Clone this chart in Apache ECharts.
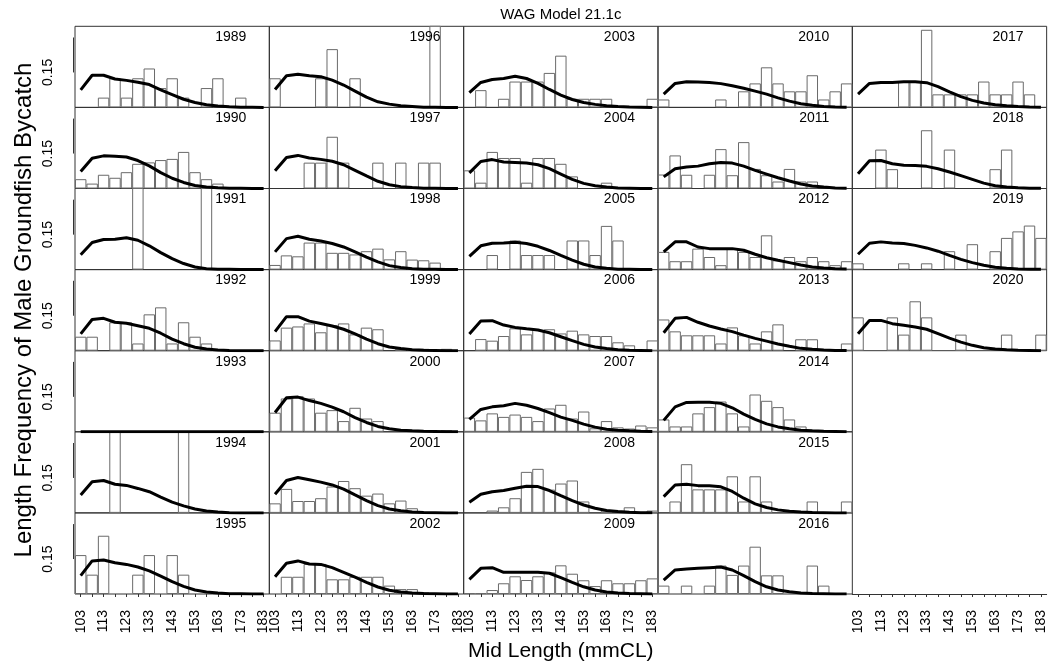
<!DOCTYPE html>
<html><head><meta charset="utf-8">
<script src="https://cdn.jsdelivr.net/npm/echarts@6/dist/echarts.min.js"></script>
<style>html,body{margin:0;padding:0;background:#fff}#c{width:1051px;height:666px}</style>
</head><body><div id="c"></div>
<script>
const bins = [103,108,113,118,123,128,133,138,143,148,153,158,163,168,173,178,183];
const years = [1989,1990,1991,1992,1993,1994,1995,1996,1997,1998,1999,2000,2001,2002,2003,2004,2005,2006,2007,2008,2009,2010,2011,2012,2013,2014,2015,2016,2017,2018,2019,2020];
const yTickLabel = 0.15;

const obs1989 = [0,0,0.042,0.125,0.042,0.125,0.167,0.083,0.125,0.042,0,0.083,0.125,0,0.042,0,0];
const exp1989 = [0.075,0.138,0.138,0.122,0.116,0.108,0.098,0.075,0.055,0.035,0.021,0.011,0.006,0.003,0.001,0.001,0];
const obs1990 = [0.040,0.021,0.059,0.046,0.070,0.106,0.112,0.122,0.127,0.157,0.070,0.040,0.021,0,0,0,0];
const exp1990 = [0.073,0.13,0.14,0.138,0.135,0.12,0.097,0.068,0.044,0.026,0.013,0.006,0.003,0.001,0.001,0,0];
const obs1991 = [0,0,0,0,0,0.5,0,0,0,0,0,0.5,0,0,0,0,0];
const exp1991 = [0.064,0.116,0.129,0.13,0.137,0.126,0.102,0.073,0.047,0.026,0.011,0.004,0.002,0.001,0,0,0];
const obs1992 = [0.06,0.06,0,0.122,0.122,0.031,0.156,0.186,0.031,0.122,0.06,0.031,0,0,0,0,0];
const exp1992 = [0.072,0.134,0.139,0.122,0.118,0.107,0.096,0.075,0.05,0.03,0.015,0.007,0.003,0.001,0,0,0];
const obs1993 = [0,0,0,0,0,0,0,0,0,0,0,0,0,0,0,0,0];
const exp1993 = [0,0,0,0,0,0,0,0,0,0,0,0,0,0,0,0,0];
const obs1994 = [0,0,0,0.5,0,0,0,0,0,0.5,0,0,0,0,0,0,0];
const exp1994 = [0.077,0.134,0.139,0.123,0.118,0.105,0.091,0.068,0.046,0.03,0.017,0.008,0.004,0.001,0,0,0];
const obs1995 = [0.167,0.083,0.25,0,0,0.083,0.167,0,0.167,0.083,0,0,0,0,0,0,0];
const exp1995 = [0.079,0.142,0.146,0.134,0.127,0.116,0.099,0.077,0.053,0.033,0.017,0.009,0.004,0.001,0.001,0,0];
const obs1996 = [0.125,0,0,0,0.125,0.25,0,0.125,0,0,0,0,0,0,0.375,0,0];
const exp1996 = [0.077,0.136,0.142,0.136,0.132,0.117,0.096,0.07,0.044,0.024,0.014,0.007,0.004,0.001,0.001,0,0];
const obs1997 = [0,0,0,0.111,0.111,0.222,0.111,0,0,0.111,0,0.111,0,0.111,0.111,0,0];
const exp1997 = [0.076,0.133,0.142,0.131,0.125,0.117,0.102,0.078,0.054,0.031,0.016,0.008,0.004,0.001,0.001,0,0];
const obs1998 = [0.02,0.061,0.057,0.116,0.116,0.072,0.072,0.065,0.079,0.09,0.044,0.079,0.043,0.04,0.03,0,0];
const exp1998 = [0.076,0.133,0.143,0.13,0.123,0.112,0.097,0.076,0.054,0.033,0.017,0.009,0.004,0.001,0.001,0,0];
const obs1999 = [0.044,0.099,0.104,0.117,0.079,0.11,0.117,0.07,0.099,0.092,0,0.008,0.004,0.008,0,0.008,0];
const exp1999 = [0.082,0.146,0.146,0.127,0.117,0.106,0.092,0.072,0.05,0.03,0.016,0.009,0.004,0.002,0.001,0,0];
const obs2000 = [0.082,0.143,0.153,0.143,0.082,0.093,0.046,0.103,0.057,0.046,0,0,0,0,0,0.007,0];
const exp2000 = [0.083,0.146,0.149,0.134,0.122,0.106,0.086,0.061,0.04,0.023,0.013,0.007,0.004,0.002,0.001,0,0];
const obs2001 = [0.041,0.103,0.051,0.051,0.063,0.113,0.137,0.106,0.074,0.083,0.041,0.053,0.02,0,0,0,0];
const exp2001 = [0.08,0.139,0.152,0.142,0.132,0.12,0.102,0.077,0.053,0.031,0.017,0.009,0.004,0.002,0.001,0,0];
const obs2002 = [0,0.074,0.074,0.129,0.129,0.063,0.063,0.074,0.074,0.074,0.036,0.021,0.021,0.007,0,0,0];
const exp2002 = [0.074,0.132,0.142,0.129,0.127,0.113,0.093,0.072,0.05,0.03,0.016,0.009,0.004,0.002,0.001,0,0];
const obs2003 = [0,0.074,0,0.037,0.111,0.111,0.111,0.148,0.222,0.037,0.037,0.037,0.037,0,0,0,0.037];
const exp2003 = [0.063,0.107,0.12,0.124,0.134,0.124,0.103,0.077,0.053,0.034,0.021,0.013,0.007,0.004,0.002,0.001,0];
const obs2004 = [0.078,0.025,0.157,0.131,0.131,0.025,0.131,0.131,0.106,0.052,0,0,0.025,0,0,0,0];
const exp2004 = [0.067,0.116,0.124,0.114,0.112,0.109,0.102,0.085,0.062,0.039,0.022,0.012,0.006,0.002,0.001,0,0];
const obs2005 = [0,0,0.0625,0,0.125,0.0625,0.0625,0.0625,0,0.125,0.125,0.0625,0.1875,0.125,0,0,0];
const exp2005 = [0.057,0.102,0.113,0.114,0.117,0.112,0.1,0.082,0.061,0.041,0.023,0.011,0.006,0.002,0.001,0,0];
const obs2006 = [0,0.05,0.043,0.063,0.096,0.07,0.089,0.092,0.074,0.086,0.07,0.063,0.063,0.036,0.023,0,0.044];
const exp2006 = [0.072,0.127,0.129,0.11,0.1,0.094,0.089,0.077,0.06,0.043,0.027,0.016,0.009,0.004,0.002,0.001,0];
const obs2007 = [0.061,0.049,0.079,0.064,0.074,0.064,0.046,0.1,0.116,0.057,0.087,0.015,0.046,0.019,0.014,0.027,0.019];
const exp2007 = [0.053,0.096,0.107,0.112,0.122,0.114,0.1,0.082,0.063,0.049,0.033,0.02,0.011,0.007,0.004,0.002,0.001];
const obs2008 = [0,0,0.01,0.024,0.063,0.176,0.189,0.1,0.126,0.139,0.049,0,0.01,0,0.024,0,0.01];
const exp2008 = [0.046,0.08,0.091,0.096,0.106,0.114,0.113,0.096,0.074,0.053,0.034,0.02,0.01,0.006,0.003,0.001,0.001];
const obs2009 = [0.004,0.004,0.017,0.046,0.076,0.06,0.076,0.093,0.123,0.087,0.059,0.034,0.059,0.046,0.046,0.059,0.067];
const exp2009 = [0.063,0.11,0.113,0.093,0.093,0.093,0.093,0.089,0.07,0.05,0.031,0.017,0.009,0.004,0.002,0.001,0];
const obs2010 = [0.034,0,0,0,0,0.034,0,0.069,0.103,0.172,0.103,0.069,0.069,0.138,0.034,0.069,0.103];
const exp2010 = [0.057,0.103,0.11,0.109,0.107,0.102,0.093,0.082,0.07,0.057,0.041,0.027,0.016,0.009,0.004,0.002,0.001];
const obs2011 = [0.06,0.142,0.059,0,0.059,0.169,0.057,0.199,0.084,0.057,0.03,0.084,0.03,0.03,0,0,0];
const exp2011 = [0.05,0.085,0.092,0.096,0.106,0.112,0.109,0.096,0.078,0.062,0.046,0.032,0.019,0.011,0.006,0.002,0.001];
const obs2012 = [0.076,0.036,0.036,0.09,0.054,0.019,0.09,0.076,0.054,0.147,0.04,0.054,0.036,0.054,0.036,0.019,0.036];
const exp2012 = [0.076,0.119,0.119,0.097,0.09,0.09,0.09,0.083,0.066,0.051,0.04,0.03,0.02,0.011,0.007,0.004,0.003];
const obs2013 = [0.134,0.083,0.066,0.066,0.066,0.031,0.1,0.066,0.031,0.083,0.113,0,0.049,0.049,0,0,0.031];
const exp2013 = [0.077,0.139,0.143,0.122,0.106,0.093,0.082,0.067,0.053,0.041,0.029,0.019,0.01,0.006,0.003,0.001,0.001];
const obs2014 = [0.053,0.023,0.023,0.079,0.106,0.13,0.079,0.023,0.16,0.133,0.106,0.053,0.023,0,0,0,0];
const exp2014 = [0.049,0.107,0.126,0.127,0.127,0.122,0.103,0.076,0.053,0.034,0.021,0.013,0.007,0.004,0.002,0.001,0];
const obs2015 = [0,0.049,0.209,0.101,0.101,0.101,0.157,0.049,0.157,0.049,0,0,0,0.049,0,0,0.049];
const exp2015 = [0.07,0.12,0.123,0.117,0.116,0.112,0.092,0.063,0.039,0.023,0.013,0.007,0.004,0.002,0.001,0,0];
const obs2016 = [0.036,0,0.036,0,0.036,0.122,0.082,0.122,0.203,0.08,0.08,0,0,0.122,0.036,0,0];
const exp2016 = [0.06,0.103,0.107,0.11,0.113,0.116,0.103,0.079,0.053,0.031,0.017,0.01,0.004,0.002,0.001,0,0];
const obs2017 = [0,0,0,0,0.111,0.111,0.333,0.056,0.056,0.056,0.056,0.111,0.056,0.056,0.111,0.056,0];
const exp2017 = [0.057,0.103,0.107,0.107,0.11,0.11,0.106,0.089,0.067,0.046,0.03,0.019,0.011,0.007,0.004,0.002,0.001];
const obs2018 = [0,0,0.167,0.083,0,0,0.25,0,0.167,0,0,0,0.083,0.167,0,0,0];
const exp2018 = [0.063,0.119,0.12,0.106,0.1,0.099,0.095,0.085,0.071,0.055,0.039,0.023,0.012,0.006,0.003,0.001,0.001];
const obs2019 = [0.027,0,0,0,0.027,0,0.027,0,0.079,0,0.109,0,0.079,0.136,0.164,0.189,0.136];
const exp2019 = [0.066,0.113,0.119,0.114,0.112,0.104,0.093,0.079,0.061,0.044,0.03,0.019,0.01,0.006,0.003,0.001,0.001];
const obs2020 = [0.143,0,0,0.143,0.069,0.212,0.143,0,0,0.069,0,0,0,0.069,0,0,0.069];
const exp2020 = [0.073,0.13,0.13,0.116,0.109,0.102,0.092,0.073,0.054,0.037,0.023,0.013,0.007,0.004,0.002,0.001,0];

const obsList = [obs1989,obs1990,obs1991,obs1992,obs1993,obs1994,obs1995,obs1996,obs1997,obs1998,obs1999,obs2000,obs2001,obs2002,obs2003,obs2004,obs2005,obs2006,obs2007,obs2008,obs2009,obs2010,obs2011,obs2012,obs2013,obs2014,obs2015,obs2016,obs2017,obs2018,obs2019,obs2020];
const expList = [exp1989,exp1990,exp1991,exp1992,exp1993,exp1994,exp1995,exp1996,exp1997,exp1998,exp1999,exp2000,exp2001,exp2002,exp2003,exp2004,exp2005,exp2006,exp2007,exp2008,exp2009,exp2010,exp2011,exp2012,exp2013,exp2014,exp2015,exp2016,exp2017,exp2018,exp2019,exp2020];

const W = 1051, L0 = 75, CW = 194.33, T0 = 26.3, RH = 81.1, YMAX = 0.348;
const FONT = 'Liberation Sans, Arial, sans-serif';
const chart = echarts.init(document.getElementById('c'), null, {renderer: 'canvas'});

const grids = [], xAxes = [], yAxes = [], series = [], titles = [];

function xAxisFor(i, showLabels, showLine) {
  return {gridIndex: i, type: 'category', data: bins.map(String), boundaryGap: true,
    axisLine: {show: showLine, lineStyle: {color: '#333', width: 1}},
    axisTick: {show: showLabels, alignWithLabel: true, interval: 0, length: 3, lineStyle: {color: '#333'}},
    axisLabel: {show: showLabels, interval: 1, rotate: 90, margin: 16, fontSize: 14, color: '#000', fontFamily: FONT},
    splitLine: {show: false}};
}

years.forEach((yr, i) => {
  const col = Math.floor(i / 7), row = i % 7;
  const left = L0 + col * CW, top = T0 + row * RH;
  const bottomLabels = row === 6 && col < 3;
  grids.push({left: left, top: top, width: CW, height: RH, show: true, borderColor: '#333', borderWidth: 1});
  xAxes.push(xAxisFor(i, bottomLabels, false));
  yAxes.push({gridIndex: i, type: 'value', min: 0, max: YMAX, interval: 0.15,
    axisLine: {show: false}, axisTick: {show: false}, splitLine: {show: false},
    axisLabel: {show: col === 0, rotate: 90, margin: 20, fontSize: 14, color: '#000', fontFamily: FONT,
      showMaxLabel: false, formatter: v => Math.abs(v - yTickLabel) < 1e-6 ? '0.15' : ''}});
  series.push({type: 'bar', xAxisIndex: i, yAxisIndex: i, silent: true, z: 2,
    data: obsList[i].map(v => v > 0 ? v : null), barCategoryGap: '0%', barGap: '0%',
    itemStyle: {color: '#fff', borderColor: '#6a6a6a', borderWidth: 1}});
  series.push({type: 'line', xAxisIndex: i, yAxisIndex: i, silent: true, z: 3,
    data: expList[i], symbol: 'none', lineStyle: {color: '#000', width: 3}});
  titles.push({text: String(yr), right: W - (left + CW) + 23, top: top + 4, padding: 0,
    textStyle: {fontSize: 14, fontWeight: 'normal', color: '#000', fontFamily: FONT}});
});

// axis under the empty bottom cell of the last column
const ex = years.length;
grids.push({left: L0 + 4 * CW, top: T0 + 6 * RH, width: CW, height: RH, show: false});
xAxes.push(xAxisFor(ex, true, true));
yAxes.push({gridIndex: ex, type: 'value', min: 0, max: YMAX, show: false});

chart.setOption({
  animation: false,
  backgroundColor: '#fff',
  textStyle: {fontFamily: FONT},
  title: titles, grid: grids, xAxis: xAxes, yAxis: yAxes, series: series
});

const plotCenterX = L0 + 2.5 * CW;
const graphics = [
  {type: 'text', x: plotCenterX, y: 15,
    style: {text: 'WAG Model 21.1c', fontSize: 15, fontFamily: FONT, fill: '#000', align: 'center', verticalAlign: 'middle'}},
  {type: 'text', x: 24, y: 310, rotation: Math.PI / 2,
    style: {text: 'Length Frequency of Male Groundfish Bycatch', fontSize: 24, fontFamily: FONT, fill: '#000', align: 'center', verticalAlign: 'middle'}},
  {type: 'text', x: plotCenterX, y: 651,
    style: {text: 'Mid Length (mmCL)', fontSize: 21, fontFamily: FONT, fill: '#000', align: 'center', verticalAlign: 'middle'}}
];
for (let r = 0; r < 7; r++) {
  const y1 = chart.convertToPixel({gridIndex: r}, [0, 0.15])[1];
  const y2 = chart.convertToPixel({gridIndex: r}, [0, 0.30])[1];
  graphics.push({type: 'line', shape: {x1: L0 - 1.5, y1: y1, x2: L0 - 1.5, y2: y2}, style: {stroke: '#333', lineWidth: 1}});
}
chart.setOption({graphic: graphics});
</script></body></html>
